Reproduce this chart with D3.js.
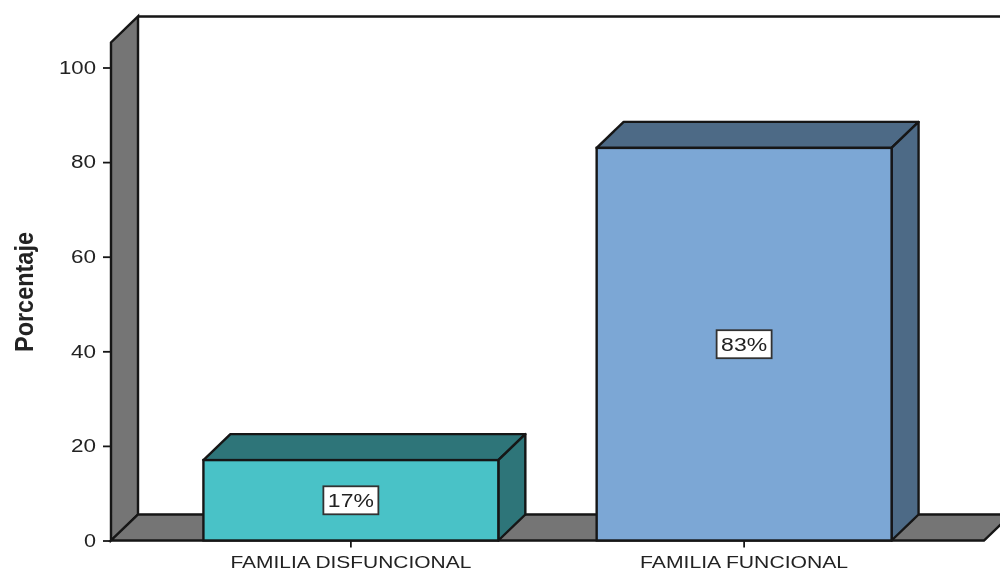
<!DOCTYPE html>
<html>
<head>
<meta charset="utf-8">
<script src="https://cdnjs.cloudflare.com/ajax/libs/d3/7.8.5/d3.min.js"></script>
<style>
  html, body { margin: 0; padding: 0; background: #fff; overflow: hidden; }
  svg { display: block; }
  text { font-family: "Liberation Sans", Arial, sans-serif; fill: #222; }
</style>
</head>
<body>
<div id="chart"></div>
<script>
// Data
const categories = ["FAMILIA DISFUNCIONAL", "FAMILIA FUNCIONAL"];
const percentages = [17, 83];
const yTicks = [0, 20, 40, 60, 80, 100];
const yTitle = "Porcentaje";

const frontColors = ["#48c2c7", "#7ba7d5"];
const sideColors = ["#2d7479", "#4d6a86"];

const width = 1000, height = 571;
const depthX = 27, depthY = -26;   // 3D offset of the back plane
const wallColor = "#757575", lineColor = "#161616";

const svgRoot = d3.select("#chart").append("svg")
    .attr("width", width)
    .attr("height", height);

// the reference is a slightly soft screenshot
svgRoot.append("defs").append("filter")
    .attr("id", "soft")
    .attr("x", 0).attr("y", 0).attr("width", 1).attr("height", 1)
    .attr("filterUnits", "userSpaceOnUse")
    .attr("x", 0).attr("y", 0).attr("width", width).attr("height", height)
    .append("feGaussianBlur").attr("stdDeviation", 0.45);

const svg = svgRoot.append("g").attr("filter", "url(#soft)");

const y = d3.scaleLinear().domain([0, 100]).range([540.5, 67.5]);
const x = d3.scaleBand().domain(categories).range([111, 984])
    .paddingInner(0.25).paddingOuter(0.235);

const yTop = y(105.3);   // top of the left wall
const line = pts => "M" + pts.map(p => p.join(",")).join("L") + "Z";
const strokeW = 2.4;

// back wall outline
svg.append("path")
    .attr("d", `M${x.range()[0] + depthX},${yTop + depthY}H${width + 5}`)
    .attr("stroke", lineColor).attr("stroke-width", strokeW).attr("fill", "none");

// left wall
svg.append("path")
    .attr("d", line([
        [x.range()[0], y(0)], [x.range()[0], yTop],
        [x.range()[0] + depthX, yTop + depthY], [x.range()[0] + depthX, y(0) + depthY]
    ]))
    .attr("fill", wallColor).attr("stroke", lineColor).attr("stroke-width", strokeW);

// floor
svg.append("path")
    .attr("d", line([
        [x.range()[0], y(0)], [x.range()[1], y(0)],
        [x.range()[1] + depthX, y(0) + depthY], [x.range()[0] + depthX, y(0) + depthY]
    ]))
    .attr("fill", wallColor).attr("stroke", lineColor).attr("stroke-width", strokeW);

// y ticks
const yAxis = d3.axisLeft(y).tickValues(yTicks).tickSize(8).tickPadding(7);
const yG = svg.append("g").attr("transform", `translate(${x.range()[0]},0)`).call(yAxis);
yG.select(".domain").remove();
yG.selectAll("line").attr("stroke", lineColor).attr("stroke-width", 1.8);
yG.selectAll("text").attr("font-size", 18).attr("font-family", null).attr("fill", null)
    .attr("textLength", d => d === 0 ? 12 : d === 100 ? 37 : 25)
    .attr("lengthAdjust", "spacingAndGlyphs");

// bars
const bars = svg.append("g").selectAll("g")
    .data(categories)
    .join("g");

bars.each(function (c, i) {
    const g = d3.select(this);
    const x0 = x(c), x1 = x(c) + x.bandwidth();
    const yv = y(percentages[i]), yb = y(0);

    g.append("path")
        .attr("d", line([[x0, yv], [x0 + depthX, yv + depthY], [x1 + depthX, yv + depthY], [x1, yv]]))
        .attr("fill", sideColors[i]).attr("stroke", lineColor).attr("stroke-width", strokeW).attr("stroke-linejoin", "round");
    g.append("path")
        .attr("d", line([[x1, yv], [x1 + depthX, yv + depthY], [x1 + depthX, yb + depthY], [x1, yb]]))
        .attr("fill", sideColors[i]).attr("stroke", lineColor).attr("stroke-width", strokeW).attr("stroke-linejoin", "round");
    g.append("rect")
        .attr("x", x0).attr("y", yv)
        .attr("width", x.bandwidth()).attr("height", yb - yv)
        .attr("fill", frontColors[i]).attr("stroke", lineColor).attr("stroke-width", strokeW);

    // value label box
    const cx = x0 + x.bandwidth() / 2, cy = y(percentages[i] / 2);
    g.append("rect")
        .attr("x", cx - 27.5).attr("y", cy - 14)
        .attr("width", 55).attr("height", 28)
        .attr("fill", "#fff").attr("stroke", "#333").attr("stroke-width", 1.8);
    g.append("text")
        .attr("x", cx).attr("y", cy + 6.5)
        .attr("text-anchor", "middle").attr("font-size", 18)
        .attr("textLength", 46).attr("lengthAdjust", "spacingAndGlyphs")
        .text(percentages[i] + "%");
});

// x axis ticks and labels
const xAxis = d3.axisBottom(x).tickSize(7).tickPadding(8);
const xG = svg.append("g").attr("transform", `translate(0,${y(0)})`).call(xAxis);
xG.select(".domain").remove();
xG.selectAll("line").attr("stroke", lineColor).attr("stroke-width", 1.8);
xG.selectAll("text").attr("font-size", 17).attr("font-family", null).attr("fill", null)
    .attr("textLength", (d, i) => [241, 208][i])
    .attr("lengthAdjust", "spacingAndGlyphs");

// y title
svg.append("text")
    .attr("transform", `translate(33,292) rotate(-90)`)
    .attr("text-anchor", "middle")
    .attr("font-size", 25).attr("font-weight", "bold")
    .attr("textLength", 120).attr("lengthAdjust", "spacingAndGlyphs")
    .text(yTitle);
</script>
</body>
</html>
